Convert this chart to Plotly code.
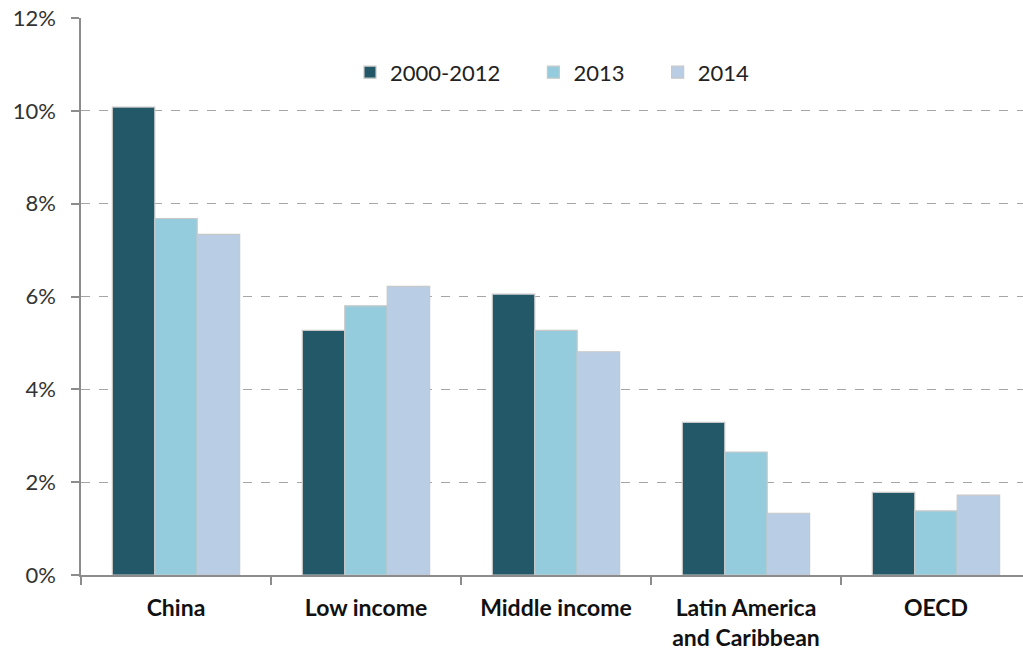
import plotly.graph_objects as go

categories = ["China", "Low income", "Middle income", "Latin America<br>and Caribbean", "OECD"]
series_names = ["2000-2012", "2013", "2014"]
v_2000_2012 = [10.08, 5.27, 6.05, 3.29, 1.78]
v_2013 = [7.68, 5.80, 5.27, 2.65, 1.38]
v_2014 = [7.34, 6.22, 4.81, 1.33, 1.72]
colors = ["#225867", "#94CCDD", "#B9CDE5"]

pad = "\u00a0" * 5
fig = go.Figure()
for i, (name, vals, col) in enumerate(zip(series_names, [v_2000_2012, v_2013, v_2014], colors)):
    fig.add_trace(go.Bar(
        x=categories, y=vals, name=name + (pad if i < 2 else ""),
        marker=dict(color=col, line=dict(color="#C8C8C8", width=1.2)),
    ))

font_family = "Lato, Open Sans, Arial"
fig.update_layout(
    width=1023, height=652,
    margin=dict(l=81, r=0, t=18, b=77),
    paper_bgcolor="white", plot_bgcolor="white",
    barmode="group", bargap=0.33, bargroupgap=0,
    font=dict(family=font_family, color="#222222"),
    legend=dict(orientation="h", x=0.5, xanchor="center", y=0.94, yanchor="top",
                font=dict(size=22, color="#222"), itemwidth=30, traceorder="normal",
                bgcolor="rgba(0,0,0,0)"),
    showlegend=True,
)
fig.update_xaxes(
    range=[-0.5, 4.458], showline=True, linecolor="#8C8C8C", linewidth=1.5,
    ticks="outside", tickson="boundaries", ticklen=8, tickcolor="#8C8C8C", tickwidth=1.5,
    tickfont=dict(size=23, color="#111"), ticklabelstandoff=12,
    showgrid=False, fixedrange=True,
)
fig.update_yaxes(
    range=[0, 12], dtick=2, ticksuffix="%", showline=True, linecolor="#8C8C8C", linewidth=1.5,
    ticks="outside", ticklen=8, tickcolor="#8C8C8C", tickwidth=1.5,
    tickfont=dict(size=22, color="#333"), ticklabelstandoff=11,
    showgrid=True, gridcolor="#A6A6A6", griddash="dash", gridwidth=1,
    zeroline=False, fixedrange=True,
)
fig.update_xaxes(tickprefix="<b>", ticksuffix="</b>")
fig.write_html("out.html")
